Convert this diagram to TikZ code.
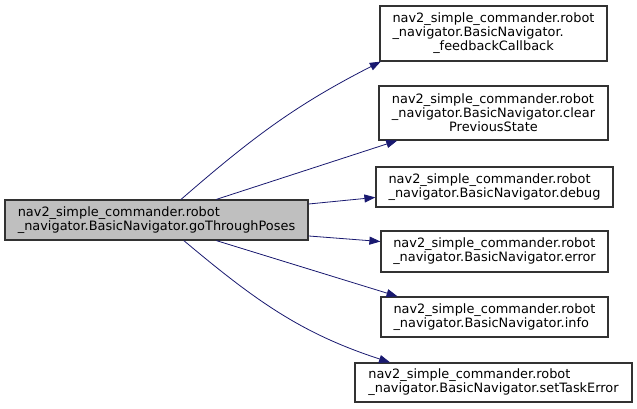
\documentclass[tikz,border=0pt]{standalone}
\usepackage{fontspec}
\setmainfont{DejaVu Sans}
\usepackage{tikz}
\usetikzlibrary{arrows.meta, calc}

\definecolor{navy}{RGB}{25,25,112}
\definecolor{boxline}{RGB}{50,50,50}

\tikzset{
  func/.style = {draw=boxline, line width=1.2pt, fill=white, inner sep=0pt, align=left,
    font=\fontsize{12.9}{14}\selectfont},
  call/.style = {navy, line width=0.8pt, -{Triangle[length=11pt, width=8pt]}}
}

\begin{document}
\begin{tikzpicture}[x=1pt, y=1pt]
\useasboundingbox (0, 0) rectangle (637, 409);

\node[func, fill=black!25, minimum width=303pt, minimum height=40pt] (main) at (156.5, 189)
  {nav2\_simple\_commander.robot\\\_navigator.BasicNavigator.goThroughPoses};

\node[func, minimum width=227pt, minimum height=55pt] (fb) at (493.5, 375.5)
  {nav2\_simple\_commander.robot\\\_navigator.BasicNavigator.\\\hfil\_feedbackCallback};
\node[func, minimum width=229pt, minimum height=54pt] (cps) at (493.5, 296)
  {nav2\_simple\_commander.robot\\\_navigator.BasicNavigator.clear\\\hfil PreviousState};
\node[func, minimum width=237pt, minimum height=40pt] (dbg) at (494.5, 222)
  {nav2\_simple\_commander.robot\\\_navigator.BasicNavigator.debug};
\node[func, minimum width=227pt, minimum height=41pt] (err) at (494.5, 157.5)
  {nav2\_simple\_commander.robot\\\_navigator.BasicNavigator.error};
\node[func, minimum width=227pt, minimum height=40pt] (info) at (494.5, 92)
  {nav2\_simple\_commander.robot\\\_navigator.BasicNavigator.info};
\node[func, minimum width=277pt, minimum height=39pt] (ste) at (493.5, 26.5)
  {nav2\_simple\_commander.robot\\\_navigator.BasicNavigator.setTaskError};

\draw[call] (main.40) to[out=41, in=207] (fb.194);
\draw[call] (main.19) -- (cps.196);
\draw[call] (main.6) -- (dbg.185);
\draw[call] (main.-6) -- (err.175);
\draw[call] (main.-19) -- (info.168);
\draw[call] (main.-37) to[out=-40, in=162] (ste.169);
\end{tikzpicture}
\end{document}
